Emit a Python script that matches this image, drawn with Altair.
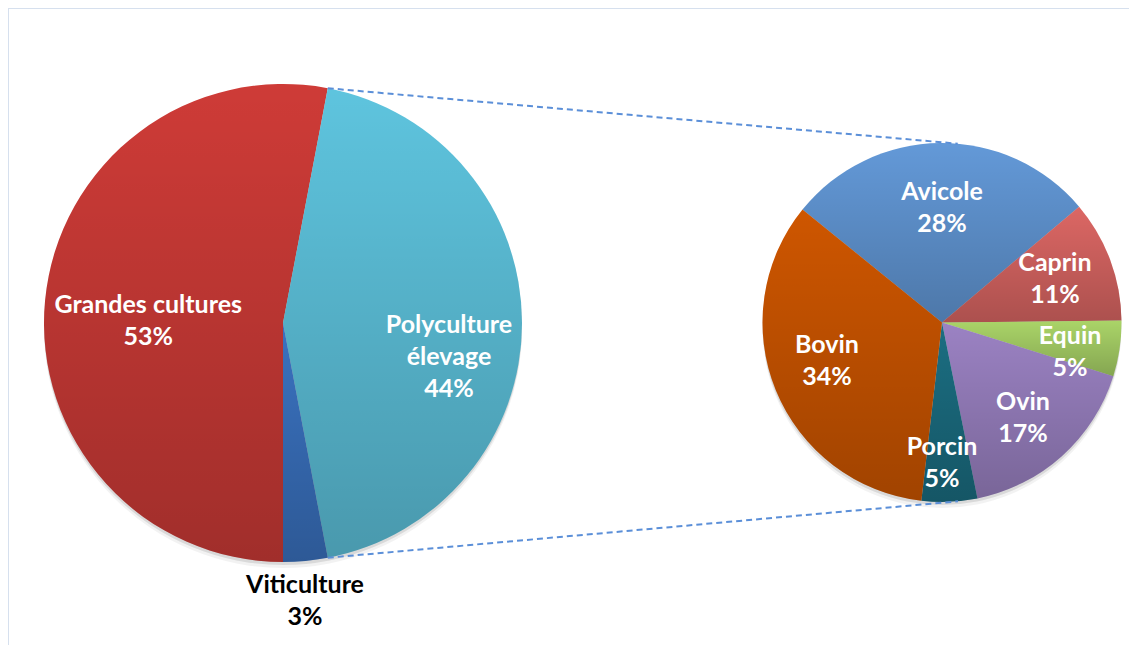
import math
import textwrap
import altair as alt
import pandas as pd

# ---------------- data ----------------
main_categories = ["Grandes cultures", "Polyculture élevage", "Viticulture"]
main_values = [53, 44, 3]
main_colors = ["#CE3B37", "#5EC4DE", "#3A72C0"]

sub_categories = ["Avicole", "Caprin", "Equin", "Ovin", "Porcin", "Bovin"]
sub_values = [28, 11, 5, 17, 5, 34]
sub_colors = ["#6399D8", "#DC6764", "#AAD468", "#9B82C3", "#1B6E82", "#CE5600"]

split_category = "Polyculture élevage"   # slice detailed by the second pie

# ---------------- layout / style ----------------
W, H = 1121, 637
LEFT_C, LEFT_R = (275.0, 315.0), 239.0
RIGHT_C, RIGHT_R = (934.0, 314.5), 179.5
RIGHT_START_DEG = -51.0

# label placement of the first text line: (distance from centre, angular tweak in degrees)
label_pos = {
    "Grandes cultures": (136, 2.2),
    "Polyculture élevage": (166, 0.7),
    "Viticulture": (263, 0.6),
    "Avicole": (130.5, 0.6),
    "Caprin": (127.7, -7.4),
    "Equin": (128.7, -2.4),
    "Ovin": (113.5, -3.5),
    "Porcin": (124.5, 2.4),
    "Bovin": (117.2, 11.1),
}

FONT = "Lato"
FONT_SIZE = 25
LINE_H = 32

# the split slice is centred on 3 o'clock (as Excel does)
i_split = main_categories.index(split_category)
before = sum(main_values[:i_split])
LEFT_START_DEG = 90 - main_values[i_split] / 100 * 180 - before / 100 * 360

shade = alt.LinearGradient(
    gradient="linear",
    stops=[
        alt.GradientStop(color="rgba(0,0,0,0)", offset=0),
        alt.GradientStop(color="rgba(0,0,0,0.22)", offset=1),
    ],
    x1=0, x2=0, y1=0, y2=1,
)


def pie(cats, vals, colors, center, r, start_deg):
    df = pd.DataFrame({"category": cats, "value": vals, "idx": list(range(len(cats)))})
    df["label"] = [textwrap.fill(c, 16) + "\n" + f"{v}%" for c, v in zip(cats, vals)]
    df["lr"] = [label_pos[c][0] for c in cats]
    df["da"] = [label_pos[c][1] for c in cats]
    s = math.radians(start_deg)
    tscale = alt.Scale(domain=[0, 100], range=[s, s + 2 * math.pi])
    cx, cy = center
    base = alt.Chart(df)
    one = alt.Chart(pd.DataFrame({"k": [0]}))

    shadow1 = one.mark_arc(theta=0, theta2=2 * math.pi, color="#000000", opacity=0.10).encode(
        x=alt.value(cx), y=alt.value(cy + 3), radius=alt.value(r))
    shadow2 = one.mark_arc(theta=0, theta2=2 * math.pi, color="#000000", opacity=0.05).encode(
        x=alt.value(cx), y=alt.value(cy + 6), radius=alt.value(r))

    arcs = base.mark_arc().encode(
        theta=alt.Theta("value:Q", stack=True, scale=tscale),
        order=alt.Order("idx:Q"),
        color=alt.Color("category:N", scale=alt.Scale(domain=cats, range=colors), legend=None),
        x=alt.value(cx), y=alt.value(cy), radius=alt.value(r),
    )
    overlay = base.mark_arc(fill=shade).encode(
        theta=alt.Theta("value:Q", stack=True, scale=tscale),
        order=alt.Order("idx:Q"),
        x=alt.value(cx), y=alt.value(cy), radius=alt.value(r),
    )
    text = (
        base.transform_window(
            cum="sum(value)", sort=[alt.SortField("idx", order="ascending")], frame=[None, 0]
        )
        .transform_calculate(mid="datum.cum - datum.value / 2 + datum.da / 3.6")
        .mark_text(font=FONT, fontSize=FONT_SIZE, fontWeight="bold", lineBreak="\n",
                   lineHeight=LINE_H, align="center", baseline="middle")
        .encode(
            theta=alt.Theta("mid:Q", scale=tscale),
            radius=alt.Radius("lr:Q", scale=None),
            text="label:N",
            color=alt.condition(f"datum.lr > {r}", alt.value("#000000"), alt.value("#FFFFFF")),
            x=alt.value(cx), y=alt.value(cy),
        )
    )
    return alt.layer(shadow1, shadow2, arcs, overlay, text)


left = pie(main_categories, main_values, main_colors, LEFT_C, LEFT_R, LEFT_START_DEG)
right = pie(sub_categories, sub_values, sub_colors, RIGHT_C, RIGHT_R, RIGHT_START_DEG)


# ---------------- connector lines (tangents from split slice edges) ----------------
def on_circle(c, r, deg):
    a = math.radians(deg)
    return (c[0] + r * math.sin(a), c[1] - r * math.cos(a))


def tangent(p, c, r, upper):
    vx, vy = c[0] - p[0], c[1] - p[1]
    d = math.hypot(vx, vy)
    L = math.sqrt(d * d - r * r)
    al = math.asin(r / d)
    ux, uy = vx / d, vy / d
    pts = []
    for sgn in (1, -1):
        ca, sa = math.cos(sgn * al), math.sin(sgn * al)
        tx, ty = ux * ca - uy * sa, ux * sa + uy * ca
        pts.append((p[0] + L * tx, p[1] + L * ty))
    return min(pts, key=lambda q: q[1]) if upper else max(pts, key=lambda q: q[1])


split_start = LEFT_START_DEG + before / 100 * 360
split_end = split_start + main_values[i_split] / 100 * 360
p_top = on_circle(LEFT_C, LEFT_R, split_start)
p_bot = on_circle(LEFT_C, LEFT_R, split_end)
t_top = tangent(p_top, RIGHT_C, RIGHT_R, True)
t_bot = tangent(p_bot, RIGHT_C, RIGHT_R, False)
conn_df = pd.DataFrame({
    "x": [p_top[0], p_bot[0]], "y": [p_top[1], p_bot[1]],
    "x2": [t_top[0], t_bot[0]], "y2": [t_top[1], t_bot[1]],
})
connectors = alt.Chart(conn_df).mark_rule(strokeDash=[6, 4], strokeWidth=2, color="#5B8FD8").encode(
    x=alt.X("x:Q", scale=None, axis=None), y=alt.Y("y:Q", scale=None, axis=None),
    x2="x2:Q", y2="y2:Q",
)

# ---------------- chart area border (top & left visible) ----------------
one = alt.Chart(pd.DataFrame({"k": [0]}))
border_top = one.mark_rule(color="#D6E0EE", strokeWidth=2).encode(
    x=alt.value(0), x2=alt.value(W), y=alt.value(0))
border_left = one.mark_rule(color="#D6E0EE", strokeWidth=2).encode(
    x=alt.value(0), y=alt.value(0), y2=alt.value(H))

chart = (
    alt.layer(border_top, border_left, left, right, connectors)
    .resolve_scale(theta="independent", color="independent")
    .properties(width=W, height=H, padding=0, autosize="none", background="white")
    .configure_view(stroke=None)
)

chart.save("out.html", embed_options={"renderer": "svg", "actions": False})
